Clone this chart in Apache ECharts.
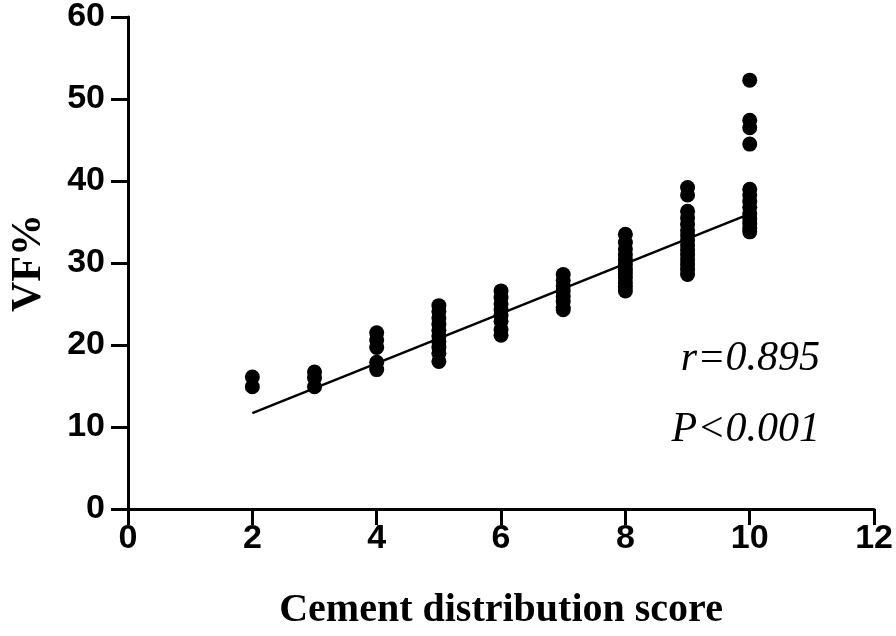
<!DOCTYPE html>
<html>
<head>
<meta charset="utf-8">
<script src="https://cdn.jsdelivr.net/npm/echarts@6/dist/echarts.min.js"></script>
<style>html,body{margin:0;padding:0;background:#fff}#c{width:896px;height:636px}</style>
</head>
<body>
<div id="c"></div>
<script>
const scores = [2, 3, 4, 5, 6, 7, 8, 9, 10];
const vf2 = [16.1, 14.9];
const vf3 = [16.7, 16.0, 14.9];
const vf4 = [21.5, 20.6, 19.7, 17.9, 17.0];
const vf5 = [24.8, 24.1, 23.3, 22.5, 21.8, 21.1, 20.4, 19.7, 19.0, 18.0];
const vf6 = [26.6, 25.8, 25.0, 24.3, 23.6, 22.9, 21.9, 21.2];
const vf7 = [28.6, 27.9, 27.2, 26.6, 25.9, 25.3, 24.6, 24.3];
const vf8 = [33.5, 32.5, 31.7, 31.0, 30.4, 29.8, 29.2, 28.7, 28.2, 27.6, 27.1, 26.6];
const vf9 = [39.2, 38.3, 36.3, 35.5, 34.7, 34.0, 33.4, 32.8, 32.2, 31.6, 31.0, 30.4, 29.8, 29.2, 28.6];
const vf10 = [52.3, 47.4, 46.5, 44.5, 39.0, 38.3, 37.5, 36.8, 36.0, 35.4, 34.8, 34.2, 33.8];
const groups = [vf2, vf3, vf4, vf5, vf6, vf7, vf8, vf9, vf10];
const fitX = [2, 10];
const fitY = [11.7, 36.0];
const xTicks = [0, 2, 4, 6, 8, 10, 12];
const yTicks = [0, 10, 20, 30, 40, 50, 60];
const statR = 'r=0.895';
const statP = 'P<0.001';

const pts = [];
groups.forEach((g, i) => g.forEach(v => pts.push([scores[i], v])));

const chart = echarts.init(document.getElementById('c'), null, {renderer: 'canvas'});
const axisLine = {show: true, lineStyle: {color: '#000', width: 3}};
const tickLbl = {color: '#000', fontFamily: 'Liberation Sans', fontWeight: 'bold', fontSize: 34};
chart.setOption({
  animation: false,
  backgroundColor: '#fff',
  grid: {left: 120, right: 14, top: 15, bottom: 117, containLabel: false},
  xAxis: {
    type: 'value', min: xTicks[0], max: xTicks[xTicks.length - 1], interval: 2,
    axisLine: axisLine,
    axisTick: {show: true, length: 16, lineStyle: {color: '#000', width: 3}},
    axisLabel: Object.assign({margin: 13}, tickLbl),
    splitLine: {show: false},
    name: 'Cement distribution score', nameLocation: 'middle', nameGap: 82,
    nameTextStyle: {color: '#000', fontFamily: 'Liberation Serif', fontWeight: 'bold', fontSize: 40}
  },
  yAxis: {
    type: 'value', min: yTicks[0], max: yTicks[yTicks.length - 1], interval: 10,
    axisLine: axisLine,
    axisTick: {show: true, length: 17, lineStyle: {color: '#000', width: 3}},
    axisLabel: Object.assign({margin: 23}, tickLbl),
    splitLine: {show: false},
    name: 'VF%', nameLocation: 'middle', nameGap: 78, nameRotate: 90,
    nameTextStyle: {color: '#000', fontFamily: 'Liberation Serif', fontWeight: 'bold', fontSize: 42}
  },
  series: [
    {
      type: 'scatter', data: pts, symbol: 'circle', symbolSize: 15,
      itemStyle: {color: '#000', opacity: 1}, z: 3
    },
    {
      type: 'line', data: fitX.map((x, i) => [x, fitY[i]]), symbol: 'none',
      lineStyle: {color: '#000', width: 2.5}, z: 2
    }
  ],
  graphic: [
    {type: 'text', right: 76, top: 338, style: {text: statR, font: 'italic 42px "Liberation Serif"', fill: '#000'}},
    {type: 'text', right: 76, top: 409, style: {text: statP, font: 'italic 42px "Liberation Serif"', fill: '#000'}}
  ]
});
</script>
</body>
</html>
